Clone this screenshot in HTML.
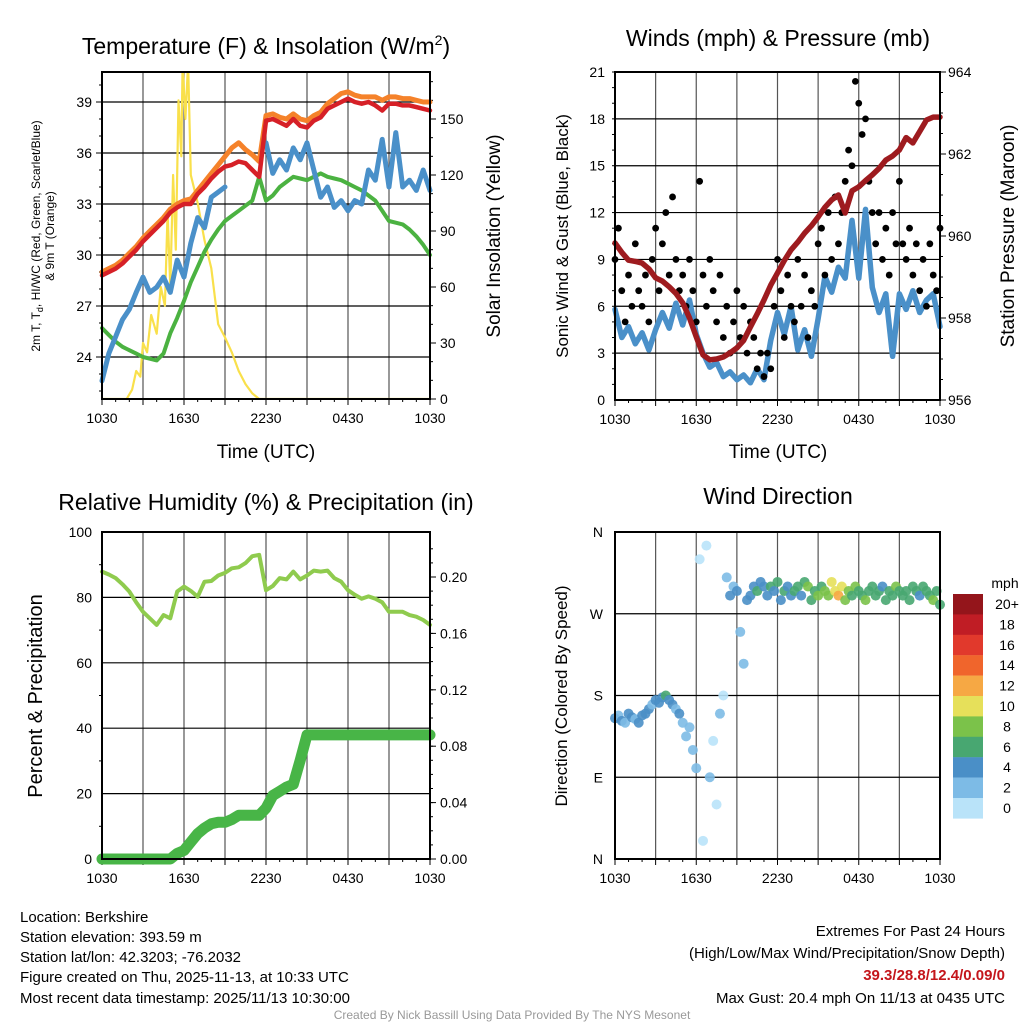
<!DOCTYPE html>
<html><head><meta charset="utf-8"><style>
body{margin:0;background:#fff}
svg{display:block;font-family:"Liberation Sans",sans-serif}
</style></head><body>
<svg id="fig" width="1024" height="1024" viewBox="0 0 1024 1024" xmlns="http://www.w3.org/2000/svg">
<defs>
<clipPath id="c1"><rect x="102" y="72" width="328" height="327"/></clipPath>
<clipPath id="c2"><rect x="615" y="72" width="325" height="328"/></clipPath>
</defs>
<rect width="1024" height="1024" fill="#fff"/>
<g id="layer"></g>
<text x="266" y="54" font-size="23" text-anchor="middle">Temperature (F) &amp; Insolation (W/m<tspan font-size="14" dy="-9">2</tspan><tspan dy="9">)</tspan></text>
<text x="778" y="46" font-size="23" text-anchor="middle">Winds (mph) &amp; Pressure (mb)</text>
<text x="266" y="510" font-size="23" text-anchor="middle">Relative Humidity (%) &amp; Precipitation (in)</text>
<text x="778" y="504" font-size="23" text-anchor="middle">Wind Direction</text>
<text x="266" y="458" font-size="19" text-anchor="middle">Time (UTC)</text>
<text x="778" y="458" font-size="19" text-anchor="middle">Time (UTC)</text>
<text transform="translate(40,236) rotate(-90)" font-size="12" text-anchor="middle">2m T, T<tspan font-size="9" dy="3">d</tspan><tspan dy="-3">, HI/WC (Red, Green, Scarlet/Blue)</tspan></text>
<text transform="translate(54,236) rotate(-90)" font-size="12" text-anchor="middle">&amp; 9m T (Orange)</text>
<text transform="translate(500,236) rotate(-90)" font-size="19" text-anchor="middle">Solar Insolation (Yellow)</text>
<text transform="translate(568,236) rotate(-90)" font-size="17" text-anchor="middle">Sonic Wind &amp; Gust (Blue, Black)</text>
<text transform="translate(1014,236) rotate(-90)" font-size="19" text-anchor="middle">Station Pressure (Maroon)</text>
<text transform="translate(42,696) rotate(-90)" font-size="20" text-anchor="middle">Percent &amp; Precipitation</text>
<text transform="translate(567,696) rotate(-90)" font-size="17" text-anchor="middle">Direction (Colored By Speed)</text>
<g font-size="15">
<text x="20" y="922">Location: Berkshire</text>
<text x="20" y="942">Station elevation: 393.59 m</text>
<text x="20" y="962">Station lat/lon: 42.3203; -76.2032</text>
<text x="20" y="982">Figure created on Thu, 2025-11-13, at 10:33 UTC</text>
<text x="20" y="1003">Most recent data timestamp: 2025/11/13 10:30:00</text>
</g>
<g font-size="15" text-anchor="end">
<text x="1005" y="936">Extremes For Past 24 Hours</text>
<text x="1005" y="958">(High/Low/Max Wind/Precipitation/Snow Depth)</text>
<text x="1005" y="980" fill="#c4161c" font-weight="bold">39.3/28.8/12.4/0.09/0</text>
<text x="1005" y="1003">Max Gust: 20.4 mph On 11/13 at 0435 UTC</text>
</g>
<text x="512" y="1019" font-size="12" fill="#999" text-anchor="middle">Created By Nick Bassill Using Data Provided By The NYS Mesonet</text>
</svg>
<script>
const xTickLabels=["1030","1630","2230","0430","1030"];
const red=[28.8,29.0,29.2,29.5,29.9,30.3,30.8,31.2,31.6,32.0,32.5,32.8,33.0,33.0,33.6,34.0,34.5,34.9,35.2,35.3,35.5,35.4,35.0,34.6,37.9,38.0,37.8,37.6,38.0,37.6,37.5,37.9,38.1,38.6,38.8,39.0,39.2,39.0,38.9,39.0,38.8,38.5,38.9,38.9,38.8,38.8,38.7,38.6,38.5];
const orange=[29.0,29.2,29.4,29.7,30.1,30.5,31.0,31.4,31.8,32.2,32.7,33.0,33.2,33.3,33.8,34.3,34.8,35.3,35.8,36.3,36.6,36.2,35.9,35.5,38.2,38.3,38.1,38.0,38.3,38.0,37.9,38.2,38.4,38.9,39.2,39.5,39.6,39.4,39.3,39.3,39.3,39.1,39.3,39.3,39.2,39.2,39.1,39.0,39.0];
const dewpt=[25.7,25.3,24.9,24.6,24.4,24.2,24.0,23.9,23.8,24.2,25.4,26.3,27.3,28.4,29.3,30.2,30.9,31.5,32.0,32.3,32.6,32.9,33.2,34.6,33.2,33.5,34.0,34.3,34.6,34.5,34.4,34.6,34.8,34.6,34.5,34.4,34.2,34.0,33.8,33.5,33.2,32.6,32.0,31.9,31.8,31.5,31.1,30.6,30.0];
const chill=[22.6,24.2,25.2,26.2,26.8,27.8,28.7,27.8,28.1,28.7,27.8,29.7,28.7,30.7,32.2,31.6,33.4,33.7,34.0,null,null,null,null,null,36.6,34.8,35.6,35.0,36.3,35.6,36.6,35.0,33.4,34.0,32.8,33.2,32.6,33.2,33.0,35.0,34.4,36.8,34.0,37.2,34.0,34.4,33.8,35.0,33.8];
const solarTimes=[0,1.8,2.2,2.5,2.8,3.0,3.3,3.6,4.0,4.3,4.6,4.8,5.0,5.2,5.4,5.6,5.8,5.9,6.1,6.3,6.5,7.0,7.5,8.0,8.5,9.0,9.5,10.0,10.5,11.0,11.5,24];
const solarVals=[0,0,5,15,12,30,25,45,35,60,50,100,60,120,80,160,130,180,150,180,120,105,85,70,40,33,25,15,8,3,0,0];
const pressure=[959.83,959.6,959.41,959.38,959.34,959.2,958.98,958.9,958.76,958.6,958.37,958.0,957.54,957.1,956.98,957.0,957.05,957.15,957.27,957.45,957.78,958.1,958.44,958.8,959.1,959.4,959.66,959.85,960.07,960.25,960.46,960.7,960.88,961.0,960.56,961.1,961.2,961.35,961.49,961.65,961.85,961.95,962.1,962.4,962.27,962.55,962.83,962.9,962.9];
const wind=[5.8,4.0,4.7,3.6,4.3,3.2,4.5,5.6,4.6,6.2,4.8,6.4,4.2,3.0,2.1,2.4,1.5,1.8,1.3,1.6,1.1,2.0,1.3,3.8,5.6,4.2,6.0,3.2,4.5,2.8,5.2,7.9,6.9,8.5,7.8,11.5,7.8,12.2,7.2,5.6,6.8,2.8,6.8,5.8,7.0,5.6,6.4,6.8,4.7];
const gust=[9,11,7,5,8,6,10,7,6, 8,5,9,11,7,10,12,8, 13,9,7,8,6,9,7,5, 14,8,6,9,7,5,8,4, 6,3,5,7,4,6,3,5,4,2,3,1.5, 3,2,6,9,7,4,8,6, 5,9,6,8,4,7,6,10, 11,8,12,9,13,10,12,14, 16,15,20.4,19,17,18,14,12, 10,12,9,11,8,12,10,14, 10,9,11,8,10,7,9,6,10,8,7,11];
const rh=[87.9,87,85.9,84,81.8,78.5,75.6,73.6,71.6,74.6,73.6,81.8,83.3,82,80.2,84.8,85,86.7,87.5,88.9,89.2,90.5,92.6,93,82.2,83.5,85.9,85.5,87.9,85.5,86.7,88.2,87.9,88.2,85.9,84.8,82.2,80.8,79.6,80.3,79.6,78.5,75.6,75.6,75.6,74.6,74.1,73.1,71.6];
const precip=[0,0,0,0,0,0,0,0,0,0,0,0.004,0.006,0.012,0.018,0.022,0.025,0.026,0.026,0.028,0.031,0.031,0.031,0.031,0.036,0.045,0.048,0.051,0.053,0.07,0.088,0.088,0.088,0.088,0.088,0.088,0.088,0.088,0.088,0.088,0.088,0.088,0.088,0.088,0.088,0.088,0.088,0.088,0.088];
const dir=[155,158,152,150,160,156,154,150,158, 160,165,170,175,172,178,180,175, 170,165,160,150,135,145,120,100, 330,20,345,90,130,60,160,180, 310,290,300,295,250,215,285,290,300,295,305,300, 290,300,295,305,285,295,300,290, 295,300,290,305,300,285,295,290, 300,295,290,305,295,290,300,285, 295,290,300,295,290,285,295,300, 290,295,300,285,295,290,300,295, 290,295,285,300,295,290,300,295,290,285,295,280];
const spd=[4,3,4,3,4,4,3,4,5, 4,4,3,4,5,4,6,4, 4,3,4,2,3,2,3,2, 1,0,1,2,1,0,2,1, 3,4,3,4,3,2,4,5,4,6,5,4, 5,6,4,7,5,6,5,4, 6,7,5,6,8,7,6,8, 7,9,8,10,11,12,10,8, 9,7,8,6,7,8,6,7, 6,7,5,6,7,6,8,7, 6,7,6,7,6,5,6,7,6,8,6,7];
const binLabels=["0","2","4","6","8","10","12","14","16","18","20+"];
const binColors=["#b9e3f9","#7dbbe6","#4a8fc7","#48a771","#7bc24a","#e6e05a","#f6a844","#f0652c","#e1392c","#c01d25","#94151b"];

const NS="http://www.w3.org/2000/svg";
const L=document.getElementById('layer');
function mk(tag,attrs,parent){const e=document.createElementNS(NS,tag);for(const k in attrs)e.setAttribute(k,attrs[k]);(parent||L).appendChild(e);return e;}
function lin(d0,d1,r0,r1){return v=>r0+(v-d0)/(d1-d0)*(r1-r0);}
const halfHours=red.map((_,i)=>i*0.5);
const quarterHours=gust.map((_,i)=>i*0.25);

function frame(x0,y0,x1,y1,name){
  const g=mk('g',{});
  
  
  const xs=lin(0,24,x0,x1);
  for(let h=3;h<24;h+=3){mk('line',{x1:xs(h),x2:xs(h),y1:y0,y2:y1,stroke:'#555','stroke-width':1.2},g);}
  for(let i=0;i<5;i++){const t=mk('text',{x:xs(i*6),y:y1+24,'font-size':14,'text-anchor':'middle'},g);t.textContent=xTickLabels[i];
    }
  for(let h=0;h<=24;h+=1){mk('line',{x1:xs(h),x2:xs(h),y1:y1,y2:y1+(h%3?3:6),stroke:'#000','stroke-width':1},g);}
  return {xs,g};
}
function border(x0,y0,x1,y1,name){const r=mk('rect',{x:x0,y:y0,width:x1-x0,height:y1-y0,fill:'none',stroke:'#000','stroke-width':2});
  }
function hgrid(y,x0,x1){mk('line',{x1:x0,x2:x1,y1:y,y2:y,stroke:'#000','stroke-width':1.2});}
function lbl(x,y,txt,anchor,name){const t=mk('text',{x:x,y:y+5,'font-size':14,'text-anchor':anchor});t.textContent=txt;
  return t;}
function path(xsArr,ysArr,xs,ys,style,name){
  let d='',pen=false;
  for(let i=0;i<ysArr.length;i++){const v=ysArr[i];if(v===null||v===undefined){pen=false;continue;}
    d+=(pen?'L':'M')+xs(xsArr[i]).toFixed(1)+','+ys(v).toFixed(1);pen=true;}
  const p=mk('path',Object.assign({d:d,fill:'none','stroke-linejoin':'round','stroke-linecap':'round'},style));
  return p;
}

// Panel 1
(function(){
  const x0=102,x1=430,y0=72,y1=399;
  const f=frame(x0,y0,x1,y1,'temp');const xs=f.xs;
  const yT=lin(24,39,357,102), yS=lin(0,150,399,119);
  for(let v=24;v<=39;v+=3){hgrid(yT(v),x0,x1);lbl(x0-10,yT(v),String(v),'end','temp-y-tick');mk('line',{x1:x0-6,x2:x0,y1:yT(v),y2:yT(v),stroke:'#000'});}
  for(let v=22;v<=40;v+=1){mk('line',{x1:x0-3,x2:x0,y1:yT(v),y2:yT(v),stroke:'#000'});}
  for(let v=0;v<=150;v+=30){lbl(x1+10,yS(v),String(v),'start','solar-y-tick');mk('line',{x1:x1,x2:x1+6,y1:yS(v),y2:yS(v),stroke:'#000'});}
  for(let v=10;v<=170;v+=10){mk('line',{x1:x1,x2:x1+3,y1:yS(v),y2:yS(v),stroke:'#000'});}
  path(solarTimes,solarVals,xs,yS,{stroke:'#f9e04b','stroke-width':2.2,'clip-path':'url(#c1)'},'solar-line');
  path(halfHours,dewpt,xs,yT,{stroke:'#4bb241','stroke-width':4},'dewpoint-line');
  path(halfHours,chill,xs,yT,{stroke:'#4a90c9','stroke-width':5},'windchill-line');
  path(halfHours,orange,xs,yT,{stroke:'#f5822a','stroke-width':5},'temp-9m-line');
  path(halfHours,red,xs,yT,{stroke:'#d62027','stroke-width':4.5},'temp-2m-line');
  border(x0,y0,x1,y1,'temp');
})();

// Panel 2
(function(){
  const x0=615,x1=940,y0=72,y1=400;
  const f=frame(x0,y0,x1,y1,'wind');const xs=f.xs;
  const yW=lin(0,21,y1,y0), yP=lin(956,964,y1,y0);
  for(let v=0;v<=21;v+=3){hgrid(yW(v),x0,x1);lbl(x0-10,yW(v),String(v),'end','wind-y-tick');}
  for(let v=1;v<=21;v+=1){mk('line',{x1:x0-3,x2:x0,y1:yW(v),y2:yW(v),stroke:'#000'});}
  for(let v=956;v<=964;v+=2){lbl(x1+8,yP(v),String(v),'start','pressure-y-tick');mk('line',{x1:x1,x2:x1+6,y1:yP(v),y2:yP(v),stroke:'#000'});}
  for(let v=956.5;v<964;v+=0.5){mk('line',{x1:x1,x2:x1+3,y1:yP(v),y2:yP(v),stroke:'#000'});}
  path(halfHours,wind,xs,yW,{stroke:'#4a90c9','stroke-width':5.5},'wind-speed-line');
  for(let i=0;i<gust.length;i++){const c=mk('circle',{cx:xs(quarterHours[i]),cy:yW(gust[i]),r:3.4,fill:'#000'});
    }
  path(halfHours,pressure,xs,yP,{stroke:'#9e1b1f','stroke-width':5.5},'pressure-line');
  border(x0,y0,x1,y1,'wind');
})();

// Panel 3
(function(){
  const x0=102,x1=430,y0=532,y1=859;
  const f=frame(x0,y0,x1,y1,'rh');const xs=f.xs;
  const yR=lin(0,100,y1,y0), yPr=lin(0,0.2,y1,577);
  for(let v=0;v<=100;v+=20){hgrid(yR(v),x0,x1);lbl(x0-10,yR(v),String(v),'end','rh-y-tick');}
  for(let v=10;v<=90;v+=20){mk('line',{x1:x0-3,x2:x0,y1:yR(v),y2:yR(v),stroke:'#000'});}
  for(let k=0;k<=5;k++){const v=k*0.04;lbl(x1+10,yPr(v),v.toFixed(2),'start','precip-y-tick');mk('line',{x1:x1,x2:x1+6,y1:yPr(v),y2:yPr(v),stroke:'#000'});}
  for(let v=0.01;v<0.23;v+=0.01){mk('line',{x1:x1,x2:x1+3,y1:yPr(v),y2:yPr(v),stroke:'#000'});}
  path(halfHours,rh,xs,yR,{stroke:'#8fcb4e','stroke-width':4},'rh-line');
  path(halfHours,precip,xs,yPr,{stroke:'#48b547','stroke-width':11},'precip-line');
  border(x0,y0,x1,y1,'rh');
})();

// Panel 4
(function(){
  const x0=615,x1=940,y0=532,y1=859;
  const f=frame(x0,y0,x1,y1,'dir');const xs=f.xs;
  const yD=lin(0,360,y1,y0);
  const names=["N","E","S","W","N"];
  for(let k=0;k<=4;k++){hgrid(yD(k*90),x0,x1);lbl(x0-12,yD(k*90),names[k],'end','dir-y-tick');}
  for(let i=0;i<dir.length;i++){
    const b=Math.max(0,Math.min(10,Math.floor(spd[i]/2)));
    const c=mk('circle',{cx:xs(quarterHours[i]),cy:yD(dir[i]),r:5,fill:binColors[b],'fill-opacity':0.9});
    
  }
  border(x0,y0,x1,y1,'dir');
  const g=mk('g',{});
  
  const t=mk('text',{x:1005,y:588,'font-size':14,'text-anchor':'middle'},g);t.textContent='mph';
  for(let k=0;k<11;k++){const idx=10-k;const yy=594+k*20.4;
    const r=mk('rect',{x:953,y:yy,width:30,height:20.6,fill:binColors[idx]},g);
    
    const tt=mk('text',{x:1007,y:yy+15,'font-size':14,'text-anchor':'middle'},g);tt.textContent=binLabels[idx];}
})();
</script>
</body></html>
